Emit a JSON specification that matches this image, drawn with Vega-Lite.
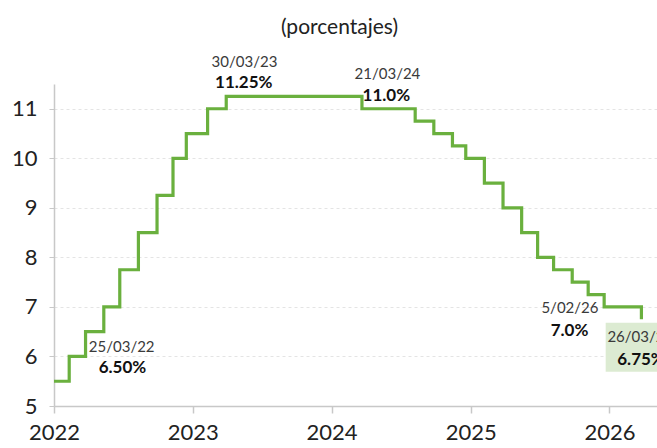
{
  "$schema": "https://vega.github.io/schema/vega-lite/v6.json",
  "autosize": {"type": "none"},
  "width": 603,
  "height": 322,
  "padding": {"left": 54, "top": 84, "right": 0, "bottom": 42},
  "background": "white",
  "title": {
    "text": "(porcentajes)",
    "font": "Lato",
    "fontSize": 21,
    "fontWeight": "normal",
    "color": "#222",
    "anchor": "middle",
    "dx": -16,
    "offset": 17
  },
  "config": {
    "view": {"stroke": null},
    "font": "Lato"
  },
  "datasets": {
    "rates": [
      {"date": "2022-01-01", "rate": 5.5},
      {"date": "2022-02-10", "rate": 6.0},
      {"date": "2022-03-25", "rate": 6.5},
      {"date": "2022-05-12", "rate": 7.0},
      {"date": "2022-06-23", "rate": 7.75},
      {"date": "2022-08-11", "rate": 8.5},
      {"date": "2022-09-29", "rate": 9.25},
      {"date": "2022-11-10", "rate": 10.0},
      {"date": "2022-12-15", "rate": 10.5},
      {"date": "2023-02-09", "rate": 11.0},
      {"date": "2023-03-30", "rate": 11.25},
      {"date": "2024-03-21", "rate": 11.0},
      {"date": "2024-08-08", "rate": 10.75},
      {"date": "2024-09-26", "rate": 10.5},
      {"date": "2024-11-14", "rate": 10.25},
      {"date": "2024-12-19", "rate": 10.0},
      {"date": "2025-02-06", "rate": 9.5},
      {"date": "2025-03-27", "rate": 9.0},
      {"date": "2025-05-15", "rate": 8.5},
      {"date": "2025-06-26", "rate": 8.0},
      {"date": "2025-08-07", "rate": 7.75},
      {"date": "2025-09-25", "rate": 7.5},
      {"date": "2025-11-06", "rate": 7.25},
      {"date": "2025-12-18", "rate": 7.0},
      {"date": "2026-02-05", "rate": 7.0},
      {"date": "2026-03-26", "rate": 6.75}
    ],
    "labels": [
      {"date": "2023-05-17", "y": 11.95, "text": "30/03/23", "kind": "date"},
      {"date": "2023-05-15", "y": 11.53, "text": "11.25%", "kind": "value"},
      {"date": "2024-05-27", "y": 11.71, "text": "21/03/24", "kind": "date"},
      {"date": "2024-05-24", "y": 11.26, "text": "11.0%", "kind": "value"},
      {"date": "2022-06-28", "y": 6.2, "text": "25/03/22", "kind": "date"},
      {"date": "2022-06-30", "y": 5.77, "text": "6.50%", "kind": "value"},
      {"date": "2025-09-19", "y": 6.98, "text": "5/02/26", "kind": "date"},
      {"date": "2025-09-18", "y": 6.52, "text": "7.0%", "kind": "value"},
      {"date": "2026-03-23", "y": 6.39, "text": "26/03/26", "kind": "date"},
      {"date": "2026-03-25", "y": 5.93, "text": "6.75%", "kind": "value"}
    ],
    "box": [
      {"start": "2025-12-22", "end": "2026-05-06", "low": 5.69, "high": 6.68}
    ]
  },
  "layer": [
    {
      "data": {"name": "box"},
      "mark": {"type": "rect", "color": "#dcebd2"},
      "encoding": {
        "x": {"field": "start", "type": "temporal"},
        "x2": {"field": "end"},
        "y": {"field": "low", "type": "quantitative"},
        "y2": {"field": "high"}
      }
    },
    {
      "data": {"name": "rates"},
      "mark": {"type": "line", "interpolate": "step-after", "color": "#6ab03e", "strokeWidth": 3.2},
      "encoding": {
        "x": {
          "field": "date",
          "type": "temporal",
          "scale": {"type": "utc", "domain": [{"year": 2022, "month": 1, "date": 1, "utc": true}, {"year": 2026, "month": 5, "date": 6, "utc": true}]},
          "axis": {
            "title": null,
            "format": "%Y",
            "tickCount": {"interval": "year", "step": 1},
            "grid": false,
            "labelFlush": false,
            "labelFontSize": 22,
            "labelColor": "#222",
            "labelPadding": 9,
            "tickSize": 7,
            "tickColor": "#c8c8c8",
            "tickWidth": 1.5,
            "domainColor": "#c8c8c8",
            "domainWidth": 1.5
          }
        },
        "y": {
          "field": "rate",
          "type": "quantitative",
          "scale": {"domain": [5, 11.5], "nice": false, "zero": false},
          "axis": {
            "title": null,
            "values": [5, 6, 7, 8, 9, 10, 11],
            "labelFontSize": 22,
            "labelColor": "#222",
            "labelPadding": 12,
            "tickSize": 5,
            "tickColor": "#c8c8c8",
            "domainColor": "#c8c8c8",
            "domainWidth": 1.5,
            "grid": true,
            "gridColor": "#e4e4e4",
            "gridDash": [3, 3],
            "gridWidth": 1
          }
        }
      }
    },
    {
      "data": {"name": "labels"},
      "transform": [{"filter": "datum.kind === 'date'"}],
      "mark": {"type": "text", "font": "Lato", "fontSize": 15, "color": "#3a3a3a", "align": "center", "baseline": "middle"},
      "encoding": {
        "x": {"field": "date", "type": "temporal"},
        "y": {"field": "y", "type": "quantitative"},
        "text": {"field": "text"}
      }
    },
    {
      "data": {"name": "labels"},
      "transform": [{"filter": "datum.kind === 'value'"}],
      "mark": {"type": "text", "font": "Lato", "fontSize": 17, "fontWeight": "bold", "color": "#111", "align": "center", "baseline": "middle"},
      "encoding": {
        "x": {"field": "date", "type": "temporal"},
        "y": {"field": "y", "type": "quantitative"},
        "text": {"field": "text"}
      }
    }
  ]
}
